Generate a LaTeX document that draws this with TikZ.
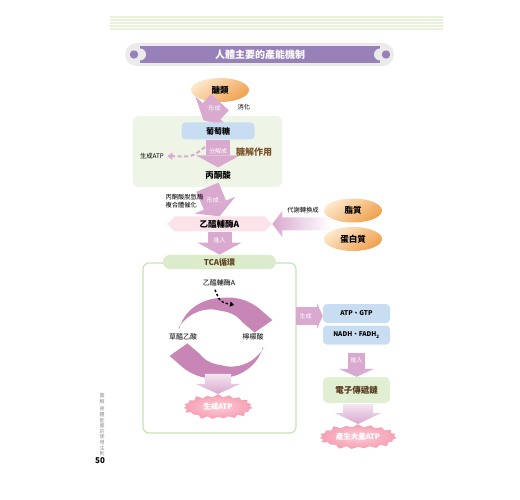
\documentclass[tikz,border=0pt]{standalone}
\usepackage{fontspec}
\setmainfont{Noto Sans CJK TC}
\usepackage{xcolor}
\usetikzlibrary{arrows.meta,shapes.symbols,shapes.geometric,calc}
\definecolor{arrowpink}{HTML}{D9A9CF}
\definecolor{cyclepink}{HTML}{C886B6}
\definecolor{lightblue}{HTML}{C9DDF2}
\definecolor{glycogreen}{HTML}{EEF4E6}
\definecolor{tabgreen}{HTML}{DCEBCB}
\definecolor{tcaline}{HTML}{C9E1B5}
\definecolor{etcgreen}{HTML}{E0EED2}
\definecolor{acoafill}{HTML}{FCE3EA}
\definecolor{bannergray}{HTML}{EBEBEB}
\definecolor{bannerpurple}{HTML}{9781B8}
\definecolor{orangeL}{HTML}{FDE8CC}
\definecolor{orangeD}{HTML}{F0A04E}
\definecolor{gbrown}{HTML}{7B5228}
\definecolor{burstL}{HTML}{FCCBD5}
\definecolor{burstD}{HTML}{F5A0B4}
\definecolor{headline}{HTML}{E8F2D8}
\tikzset{
  every picture/.style={line join=round, >=Stealth},
  blockarr/.style={draw=arrowpink, line width=24pt, line cap=butt,
    -{Triangle[length=12pt,width=44pt,line width=0pt,fill=arrowpink]}},
  slimarr/.style={draw=arrowpink, line width=17pt, line cap=butt,
    -{Triangle[length=8pt,width=35pt,line width=0pt,fill=arrowpink]}},
  arrtxt/.style={text=white, font=\fontsize{6}{7}\selectfont},
  smalltxt/.style={font=\fontsize{6.3}{7.5}\selectfont},
  nametxt/.style={font=\bfseries\fontsize{8.5}{9}\selectfont},
  ovalbox/.style={ellipse, nametxt, minimum width=58pt, minimum height=24pt,
    top color=orangeL, bottom color=orangeD, shading angle=35},
  bluebox/.style={fill=lightblue, rounded corners=4pt, minimum width=67pt,
    minimum height=19pt, font=\bfseries\fontsize{6.5}{7}\selectfont},
  burst/.style={starburst, starburst points=19, starburst point height=4pt,
    inner color=burstL, outer color=burstD, minimum width=72pt,
    minimum height=21pt, text=white, font=\bfseries\fontsize{7.5}{8}\selectfont},
  dasharr/.style={draw=arrowpink, line width=2pt, dash pattern=on 4pt off 2.5pt,
    -{Triangle[length=5pt,width=7pt]}},
}

\begin{document}
\begin{tikzpicture}[x=1pt,y=-1pt]
\useasboundingbox (0,0) rectangle (520,500);
% header lines
\foreach \h in {17,20,23,26,29}
  \draw[headline, line width=1.2pt] (110,\h) -- (443,\h);
% title banner
\fill[bannergray, rounded corners=11.5pt] (125,43) rectangle (394,66);
\fill[bannerpurple] (140,46) rectangle (380,63);
\fill[bannergray] (140,54.5) circle (6) (380,54.5) circle (6);
\fill[bannerpurple] (134,54.5) circle (4.2) (386,54.5) circle (4.2);
\node[text=white, font=\bfseries\fontsize{10}{11}\selectfont] (title) at (260,54.5) {人體主要的產能機制};

% glycolysis
\node[ovalbox] (sugar) at (220,90) {醣類};
\node[fill=glycogreen, rounded corners=6pt, minimum width=149pt, minimum height=71pt] (glyco) at (207.5,151.5) {};
\draw[blockarr, shorten >=-6pt] (sugar.south) -- (glyco.north) node[arrtxt, pos=0.43] {形成};
\node[smalltxt, anchor=west] (digest) at (234,107) {消化};
\node[bluebox, minimum width=73pt, minimum height=17pt, font=\bfseries\fontsize{8}{9}\selectfont] (glucose) at (218,131) {葡萄糖};
\node[nametxt] (pyruvate) at (218,175) {丙酮酸};
\draw[blockarr] (glucose.south) -- (pyruvate.north) node[arrtxt, pos=0.4] {分解成};
\node[text=gbrown, font=\bfseries\fontsize{9}{10}\selectfont] (glylabel) at (254,152) {糖解作用};
\coordinate (split) at (205,147);
\node[smalltxt] (atpone) at (152,156) {生成ATP};
\draw[dasharr] (split) .. controls (192,157) .. (atpone.east);

% acetyl-CoA
\node[signal, signal to=west and east, fill=acoafill, minimum width=105pt, minimum height=15pt, nametxt] (acoa) at (219.5,224) {乙醯輔酶A};
\draw[blockarr] (glyco.south) -- (acoa.north) node[arrtxt, pos=0.44] {形成};
\node[smalltxt, anchor=west, align=left] (enzyme) at (162,201) {丙酮酸脫氫酶\\複合體催化};
\node[ovalbox] (lipid) at (353,210.5) {脂質};
\node[ovalbox] (protein) at (353,239) {蛋白質};
\shade[left color=arrowpink, middle color=arrowpink, right color=white]
  (acoa.east) -- ++(10,-13) -- ++(0,6.5) -- ++(48,0) -- ++(0,13) -- ++(-48,0) -- ++(0,6.5) -- cycle;
\node[smalltxt] (convert) at (303,210) {代謝轉換成};

% TCA cycle
\node[draw=tcaline, line width=1.2pt, rounded corners=6pt, minimum width=153pt, minimum height=170pt] (tcabox) at (219.5,348) {};
\node[fill=tabgreen, rounded corners=7pt, minimum width=113pt, minimum height=14pt, text=gbrown!80!black, font=\bfseries\fontsize{8}{9}\selectfont] (tcatab) at (219.5,262) {TCA循環};
\draw[blockarr] (acoa.south) -- (tcatab.north) node[arrtxt, pos=0.36] {進入};
\node[smalltxt, font=\fontsize{7}{8}\selectfont] (acoatwo) at (219,283) {乙醯輔酶A};
\coordinate (cyc) at (221,338);
\begin{scope}[shift={(cyc)}, x=1.1pt, y=1pt]
  \foreach \r in {0,180}
    \fill[cyclepink, rotate=\r]
      plot[domain=166:36, samples=40] (\x:{40+6*max(0,90-\x)/54-max(0,\x-90)/76})
      -- (21:50) -- (10:31) -- (40:25)
      -- plot[domain=40:166, samples=40] (\x:{27+13*max(0,\x-90)/76-2*max(0,90-\x)/50})
      -- cycle;
\end{scope}
\coordinate (entry) at (234,305);
\draw[line width=1.4pt, dash pattern=on 2.5pt off 2pt, -{Triangle[length=4pt,width=5pt]}]
  ($(acoatwo.south)+(-4,0)$) .. controls (220,302) .. (entry);
\node[smalltxt, font=\fontsize{7}{8}\selectfont] (oaa) at (183,337) {草醯乙酸};
\node[smalltxt, font=\fontsize{7}{8}\selectfont] (citrate) at (253,337) {檸檬酸};
\node[burst] (atpa) at (218,407) {生成ATP};
\shade[top color=arrowpink!30, bottom color=arrowpink]
  (atpa.north) -- ++(-22,-10) -- ++(9,0) -- ++(0,-10) -- ++(26,0) -- ++(0,10) -- ++(9,0) -- cycle;

% products and electron transport chain
\node[bluebox] (gtp) at (356.5,313.5) {ATP、GTP};
\node[bluebox] (nadh) at (356.5,335) {NADH、FADH\textsubscript{2}};
\coordinate (gen) at (296,316);
\draw[draw=arrowpink, line width=18pt, line cap=butt, -{Triangle[length=6pt,width=26pt,line width=0pt,fill=arrowpink]}]
  (gen) -- (gen -| gtp.west) node[arrtxt, pos=0.36] {生成};
\node[fill=etcgreen, rounded corners=5pt, minimum width=67pt, minimum height=26pt, text=gbrown!70!black, font=\bfseries\fontsize{8.5}{9}\selectfont] (etc) at (356.5,390) {電子傳遞鏈};
\draw[slimarr, shorten <=8pt] (nadh.south) -- (etc.north) node[arrtxt, pos=0.48] {進入};
\node[burst] (atpb) at (358,437) {產生大量ATP};
\shade[top color=arrowpink!30, bottom color=arrowpink]
  (atpb.north) -- ++(-23,-11) -- ++(8,0) -- ++(0,-9) -- ++(30,0) -- ++(0,9) -- ++(8,0) -- cycle;

% page margin
\node[text=black!45, font=\fontsize{5}{5.6}\selectfont, align=center] (runhead) at (102,425) {圖\\解\\[2pt]身\\體\\能\\量\\的\\使\\用\\法\\則};
\node[font=\bfseries\fontsize{8}{9}\selectfont] (pnum) at (100,461) {50};
\end{tikzpicture}
\end{document}
